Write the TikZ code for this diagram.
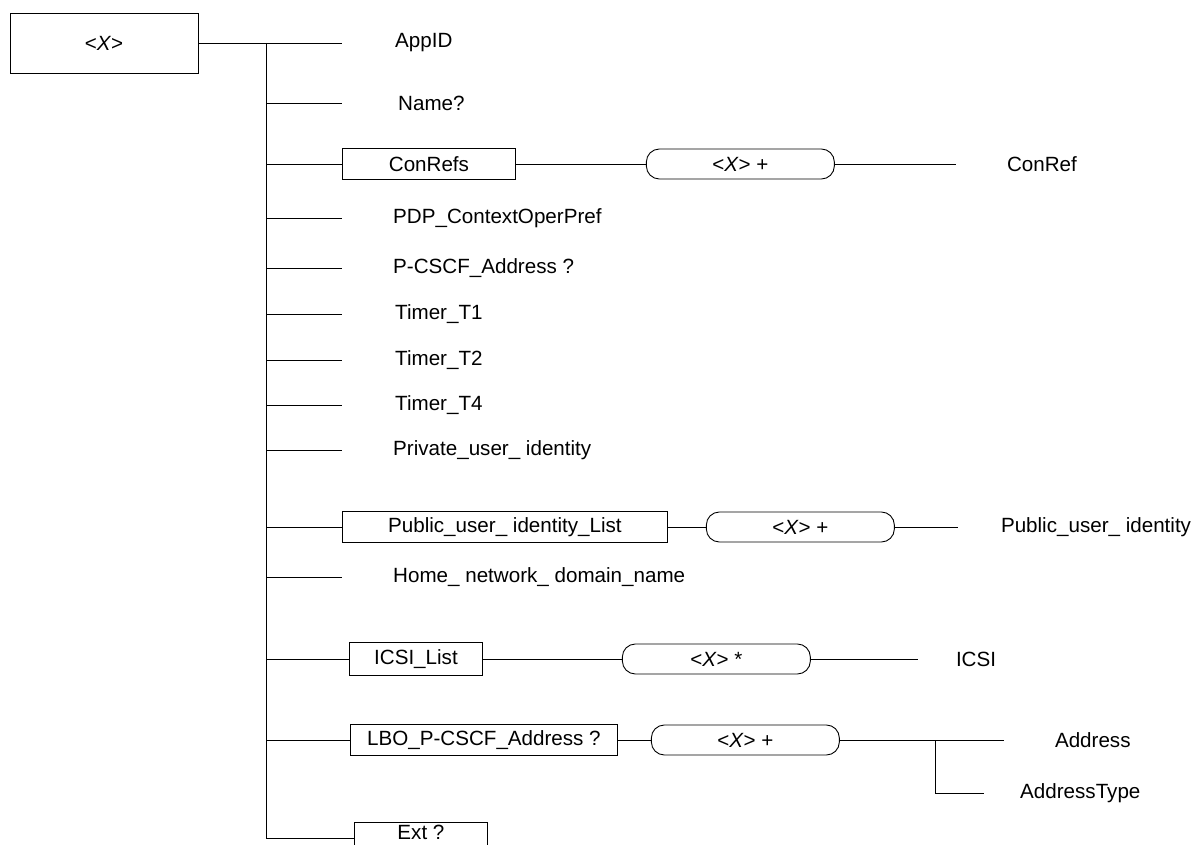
\documentclass[tikz,border=0pt]{standalone}
\usepackage{fontspec}
\setmainfont{Liberation Sans}
\usetikzlibrary{positioning}
\newcommand\treefont{\fontsize{20.6}{24}\selectfont}
\tikzset{
  elem/.style={draw=black, line width=0.9pt, minimum height=31pt, inner sep=0pt, font=\treefont},
  mult/.style={draw=black, line width=0.9pt, rounded corners=13pt, minimum width=188pt, minimum height=30pt, inner sep=0pt, font=\treefont},
  leaf/.style={inner sep=0pt, anchor=west, font=\treefont},
  link/.style={black, line width=0.9pt}
}
\begin{document}
\begin{tikzpicture}[x=1pt, y=-1pt]
  \useasboundingbox (0,0) rectangle (1194,845);
  % root element and spine
  \node[elem, minimum width=188pt, minimum height=60pt] (root) at (104,43) {<\textit{X}>};
  \coordinate (spinetop) at (266,43);
  % plain leaves
  \foreach \n/\y in {appid/43,name/103,pdp/218,pcscf/268,tone/314,ttwo/360,tfour/405,priv/450,home/577}
    \coordinate (\n-end) at (342,\y);
  \node[leaf, right=53pt of appid-end] (appid) {AppID};
  \node[leaf, right=56pt of name-end] (name) {Name?};
  \node[leaf, right=51pt of pdp-end] (pdp) {PDP\_ContextOperPref};
  \node[leaf, right=51pt of pcscf-end] (pcscf) {P-CSCF\_Address ?};
  \node[leaf, right=53pt of tone-end] (tone) {Timer\_T1};
  \node[leaf, right=53pt of ttwo-end] (ttwo) {Timer\_T2};
  \node[leaf, right=53pt of tfour-end] (tfour) {Timer\_T4};
  \node[leaf, right=51pt of priv-end] (priv) {Private\_user\_ identity};
  \node[leaf, right=51pt of home-end] (home) {Home\_ network\_ domain\_name};
  % ConRefs
  \node[elem, minimum width=173pt, anchor=west] (conrefs) at (342,164) {ConRefs};
  \node[mult, right=130pt of conrefs] (conmult) {<\textit{X}> +};
  \coordinate[right=121pt of conmult] (conref-end);
  \node[leaf, right=51pt of conref-end] (conref) {ConRef};
  % Public_user_identity_List
  \node[elem, minimum width=325pt, anchor=west] (publist) at (342,527) {Public\_user\_ identity\_List};
  \node[mult, right=38pt of publist] (pubmult) {<\textit{X}> +};
  \coordinate[right=63pt of pubmult] (pubid-end);
  \node[leaf, right=43pt of pubid-end] (pubid) {Public\_user\_ identity};
  % ICSI_List
  \node[elem, minimum width=133pt, minimum height=33pt, anchor=west] (icsilist) at (349,659) {ICSI\_List};
  \node[mult, right=139pt of icsilist] (icsimult) {<\textit{X}> *};
  \coordinate[right=107pt of icsimult] (icsi-end);
  \node[leaf, right=38pt of icsi-end] (icsi) {ICSI};
  % LBO_P-CSCF_Address
  \node[elem, minimum width=267pt, anchor=west] (lbo) at (350,740) {LBO\_P-CSCF\_Address ?};
  \node[mult, right=33pt of lbo] (lbomult) {<\textit{X}> +};
  \coordinate[right=96pt of lbomult] (fork);
  \coordinate[right=68pt of fork] (addr-end);
  \coordinate (addrtype-end) at (984,793);
  \node[leaf, right=51pt of addr-end] (addr) {Address};
  \node[leaf, right=36pt of addrtype-end] (addrtype) {AddressType};
  % Ext
  \node[elem, minimum width=133pt, minimum height=32pt, text depth=11pt, anchor=west] (ext) at (354,838) {Ext ?};
  % connectors
  \draw[link] (root.east) -- (appid-end);
  \draw[link] (spinetop) -- (spinetop |- ext);
  \foreach \n in {name,pdp,pcscf,tone,ttwo,tfour,priv,home}
    \draw[link] (spinetop |- \n-end) -- (\n-end);
  \draw[link] (spinetop |- conrefs) -- (conrefs) -- (conmult) -- (conref-end);
  \draw[link] (spinetop |- publist) -- (publist) -- (pubmult) -- (pubid-end);
  \draw[link] (spinetop |- icsilist) -- (icsilist) -- (icsimult) -- (icsi-end);
  \draw[link] (spinetop |- lbo) -- (lbo) -- (lbomult) -- (addr-end);
  \draw[link] (fork) |- (addrtype-end);
  \draw[link] (spinetop |- ext) -- (ext);
\end{tikzpicture}
\end{document}
